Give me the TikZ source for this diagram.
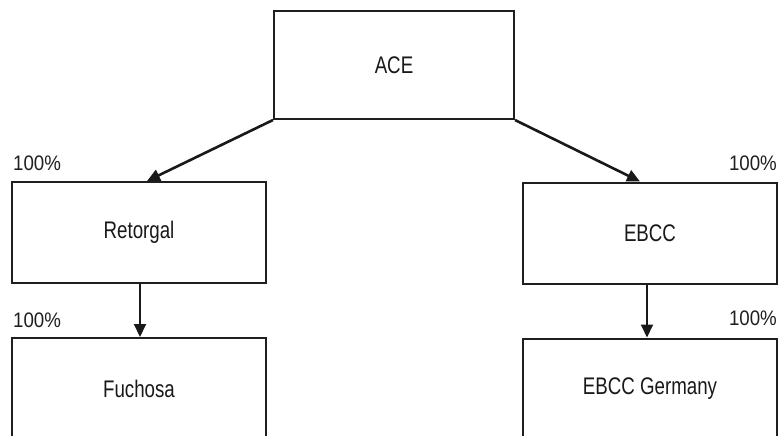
\documentclass[tikz,border=0pt]{standalone}
\usepackage{fontspec}
\setmainfont[FakeStretch=0.89]{Liberation Sans}
\newfontfamily\boxfont[FakeStretch=0.78]{Liberation Sans}
\usetikzlibrary{arrows.meta}
\begin{document}
\begin{tikzpicture}[x=1pt,y=-1pt,
  font=\fontsize{21}{25}\selectfont,
  orgbox/.style={draw=black!88,line width=2pt,rectangle,inner sep=0pt,
    minimum width=254pt,minimum height=101pt,
    font=\boxfont\fontsize{24}{28}\selectfont,text=black!90},
  pct/.style={inner sep=0pt,text=black!88},
  link/.style={draw=black!90,-{Triangle[length=13pt,width=12pt]}},
]
\clip (0,0) rectangle (779,436);
\node[orgbox,minimum width=240pt,minimum height=108pt] (ace) at (394,65) {ACE};
\node[orgbox] (ret) at (139,232.5) {Retorgal};
\node[orgbox] (ebcc) at (650,233) {EBCC};
\node[orgbox] (fuc) at (139,388.5) {Fuchosa};
\node[orgbox] (ebccg) at (650,389) {EBCC Germany};
\node[pct,anchor=base west] (p1) at (13,170) {100\%};
\node[pct,anchor=base east] (p2) at (777,170) {100\%};
\node[pct,anchor=base west] (p3) at (13,327) {100\%};
\node[pct,anchor=base east] (p4) at (777,325) {100\%};
\draw[link,line width=2.6pt] (ace.south west) -- ([xshift=8pt]ret.north);
\draw[link,line width=2.6pt] (ace.south east) -- ([xshift=-10pt]ebcc.north);
\draw[link,line width=2pt] ([xshift=1pt]ret.south) -- ([xshift=1pt]fuc.north);
\draw[link,line width=2pt] ([xshift=-3pt]ebcc.south) -- ([xshift=-3pt]ebccg.north);
\end{tikzpicture}
\end{document}
